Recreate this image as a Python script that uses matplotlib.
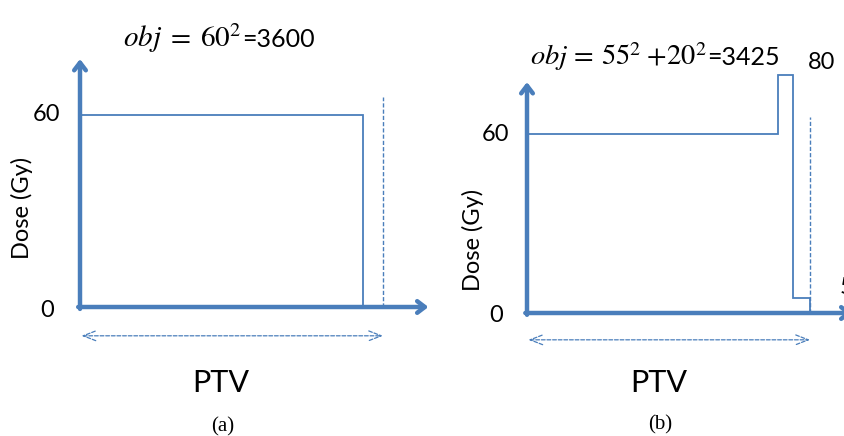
"""Dose profile sketches for two PTV plans."""
import matplotlib
matplotlib.use("Agg")
import matplotlib.pyplot as plt

plt.rcParams["font.family"] = ["Lato", "DejaVu Sans"]
plt.rcParams["mathtext.fontset"] = "stix"

W, H = 845, 436
BLUE = "#4A7EBB"

# dose profiles: PTV edges (fraction of PTV) and dose per segment (Gy)
edges_a = [0, 0.934]
dose_a = [60]
edges_b = [0, 0.887, 0.94, 1.0]
dose_b = [60, 80, 5]
ticks = [0, 60]
obj_terms = [r"$obj\;=\;60^2$", r"$obj\,=\,55^2\;{+}20^2$"]
obj_values = ["=3600", "=3425"]
panel_labels = ["(a)", "(b)"]

# pixel mapping of each panel: (x0 px, px per PTV unit, y0 px, px per Gy)
maps = [(80, 303, 307, 3.2), (527, 283, 313, 2.98)]
XLIM, YLIM = (-0.27, 1.2), (-42, 95)
# title placement (data units): start of formula, baseline, formula size
title_pos = [(0.142, 81.3, 21), (0.0106, 83.2, 20.5)]

fig = plt.figure(figsize=(W / 100, H / 100), dpi=100)

for i, (x0, sx, y0, sy) in enumerate(maps):
    left = x0 + sx * XLIM[0]
    right = x0 + sx * XLIM[1]
    top = y0 - sy * YLIM[1]
    bottom = y0 - sy * YLIM[0]
    ax = fig.add_axes([left / W, (H - bottom) / H, (right - left) / W, (bottom - top) / H])
    ax.set_xlim(*XLIM)
    ax.set_ylim(*YLIM)
    ax.axis("off")

    edges, dose = (edges_a, dose_a) if i == 0 else (edges_b, dose_b)
    ax.stairs(dose, edges, baseline=0, color=BLUE, lw=1.3)

    # PTV boundary
    ax.plot([1, 1], [0, 65.7], color=BLUE, lw=1.0, ls=(0, (3, 1.5)))

    # axes arrows
    arrow = dict(arrowstyle="->,head_length=0.55,head_width=0.42", color=BLUE, lw=3.2,
                 shrinkA=0, shrinkB=0)
    ax.annotate("", xy=(0, 77.5), xytext=(0, -0.6), arrowprops=arrow, annotation_clip=False)
    ax.annotate("", xy=(1.15, 0), xytext=(-0.006, 0), arrowprops=arrow, annotation_clip=False)

    # PTV extent
    ax.annotate("", xy=(1, -9), xytext=(0.005, -9), annotation_clip=False,
                arrowprops=dict(arrowstyle="<->,head_length=0.9,head_width=0.35", color=BLUE,
                                lw=0.9, ls=(0, (3, 1.5)), shrinkA=0, shrinkB=0))

    for t in ticks:
        ax.text(-0.11, t - (1 if t == 0 else 0), str(t), ha="center", va="center", fontsize=17)
    ax.text(-0.19, 31 if i == 0 else 24.5, "Dose (Gy)", rotation=90, ha="center",
            va="center", fontsize=17)
    ax.text(0.465, -23.6, "PTV", ha="center", va="center", fontsize=22)
    ax.text(0.47, -37.4, panel_labels[i], ha="center", va="center", fontsize=15,
            family="Liberation Serif")

    tx, ty, fs = title_pos[i]
    t1 = ax.text(tx, ty, obj_terms[i], ha="left", va="baseline", fontsize=fs)
    ax.annotate(obj_values[i], xy=(1, ty), xycoords=(t1, "data"), xytext=(0.5, 0),
                textcoords="offset points", ha="left", va="baseline", fontsize=18,
                annotation_clip=False)

    if i == 1:
        ax.text(1.042, 83.9, "80", ha="center", va="center", fontsize=17)
        ax.text(1.105, 8.7, "5", ha="left", va="center", fontsize=17)

fig.savefig("out.png", dpi=100)
